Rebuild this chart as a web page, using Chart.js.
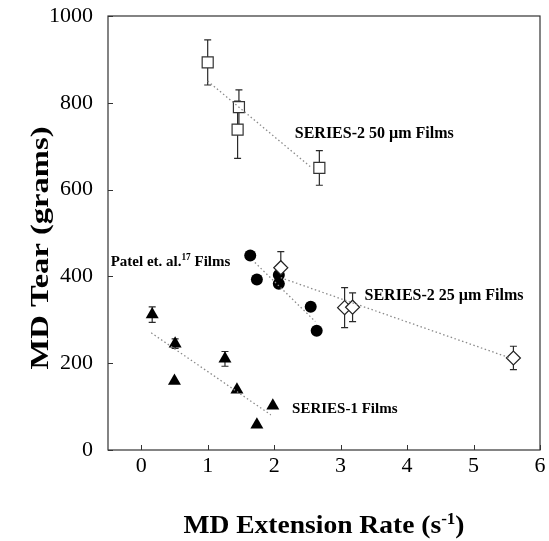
<!DOCTYPE html>
<html>
<head>
<meta charset="utf-8">
<script src="https://cdn.jsdelivr.net/npm/chart.js@4.4.1/dist/chart.umd.min.js"></script>
<style>
  html, body { margin: 0; padding: 0; background: #fff; }
  #wrap { width: 549px; height: 541px; }
</style>
</head>
<body>
<div id="wrap"><canvas id="tearChart" width="549" height="541"></canvas></div>
<script>
// ==== Data ====
const xTicks = [0, 1, 2, 3, 4, 5, 6];
const yTicks = [0, 200, 400, 600, 800, 1000];

// SERIES-2 50 um films (open squares)
const s50X = [1.0, 1.47, 1.45, 2.68];
const s50Y = [893, 790, 738, 650];
const s50Err = [52, 40, 66, 40];

// SERIES-2 25 um films (open diamonds)
const s25X = [2.1, 3.06, 3.18, 5.6];
const s25Y = [420, 328, 329, 212];
const s25Err = [37, 46, 33, 27];

// Patel et al. films (filled circles)
const patelX = [1.64, 1.74, 2.07, 2.07, 2.55, 2.64];
const patelY = [448, 393, 403, 383, 330, 275];

// SERIES-1 films (filled triangles)
const s1X = [0.165, 0.51, 0.5, 1.26, 1.44, 1.98, 1.74];
const s1Y = [312, 245, 159, 210, 139, 102, 58];
const s1Err = [18, 11, 0, 17, 0, 0, 0];

// dotted trend lines
const trend50X = [1.0, 2.55];
const trend50Y = [850, 652];
const trend25X = [2.1, 5.55];
const trend25Y = [397, 212];
const trendPatelX = [1.71, 2.62];
const trendPatelY = [432, 296];
const trendS1X = [0.15, 1.95];
const trendS1Y = [270, 81];

const SERIF = "'Liberation Serif', 'Times New Roman', 'DejaVu Serif', serif";

function pts(xs, ys) {
  return xs.map((x, i) => ({ x: x, y: ys[i] }));
}

function trendSet(xs, ys) {
  return {
    data: pts(xs, ys),
    showLine: true,
    borderColor: "#8a8a8a",
    borderWidth: 1.3,
    borderDash: [1.5, 2.5],
    pointRadius: 0,
    fill: false,
    errs: null
  };
}

// ==== Plugins ====
const frameAndTicks = {
  id: "frameAndTicks",
  afterDraw(chart) {
    const { ctx, chartArea: a, scales } = chart;
    ctx.save();
    ctx.strokeStyle = "#333";
    ctx.lineWidth = 1.2;
    ctx.strokeRect(a.left, a.top, a.right - a.left, a.bottom - a.top);
    ctx.lineWidth = 1;
    xTicks.forEach(v => {
      const px = Math.round(scales.x.getPixelForValue(v)) + 0.5;
      ctx.beginPath();
      ctx.moveTo(px, a.bottom);
      ctx.lineTo(px, a.bottom - 5);
      ctx.stroke();
    });
    yTicks.forEach(v => {
      const py = Math.round(scales.y.getPixelForValue(v)) + 0.5;
      ctx.beginPath();
      ctx.moveTo(a.left, py);
      ctx.lineTo(a.left + 5, py);
      ctx.stroke();
    });
    ctx.restore();
  }
};

const errorBars = {
  id: "errorBars",
  beforeDatasetsDraw(chart) {
    const { ctx, scales } = chart;
    ctx.save();
    ctx.strokeStyle = "#2a2a2a";
    ctx.lineWidth = 1.2;
    chart.data.datasets.forEach(ds => {
      if (!ds.errs) return;
      ds.data.forEach((p, i) => {
        const e = ds.errs[i];
        if (!e) return;
        const px = scales.x.getPixelForValue(p.x);
        const top = scales.y.getPixelForValue(p.y + e);
        const bot = scales.y.getPixelForValue(p.y - e);
        ctx.beginPath();
        ctx.moveTo(px, top);
        ctx.lineTo(px, bot);
        ctx.moveTo(px - 3.5, top);
        ctx.lineTo(px + 3.5, top);
        ctx.moveTo(px - 3.5, bot);
        ctx.lineTo(px + 3.5, bot);
        ctx.stroke();
      });
    });
    ctx.restore();
  }
};

// text pieces: [string, isSuperscript]
function richWidth(ctx, parts, size) {
  let w = 0;
  parts.forEach(([txt, sup]) => {
    ctx.font = "bold " + (sup ? size * 0.62 : size) + "px " + SERIF;
    w += ctx.measureText(txt).width;
  });
  return w;
}

function drawRich(ctx, parts, x, y, size, supRaise) {
  let cx = x;
  parts.forEach(([txt, sup]) => {
    const s = sup ? size * 0.62 : size;
    ctx.font = "bold " + s + "px " + SERIF;
    ctx.fillText(txt, cx, sup ? y - size * (supRaise || 0.42) : y);
    cx += ctx.measureText(txt).width;
  });
}

const labels = {
  id: "labels",
  afterDraw(chart) {
    const { ctx, scales, chartArea: a } = chart;
    const X = v => scales.x.getPixelForValue(v);
    const Y = v => scales.y.getPixelForValue(v);
    ctx.save();
    ctx.fillStyle = "#000";
    ctx.textBaseline = "alphabetic";
    ctx.textAlign = "left";
    drawRich(ctx, [["SERIES-2 50 \u00b5m Films", false]], X(2.31), Y(720), 16);
    drawRich(ctx, [["Patel et. al.", false], ["17", true], [" Films", false]], X(-0.46), Y(424), 15);
    drawRich(ctx, [["SERIES-2 25 \u00b5m Films", false]], X(3.36), Y(345), 16);
    drawRich(ctx, [["SERIES-1 Films", false]], X(2.27), Y(86), 15);

    // x axis title with superscript, slightly widened like the original
    const xt = [["MD Extension Rate (s", false], ["-1", true], [")", false]];
    const xw = richWidth(ctx, xt, 26);
    const sx = 281 / xw;
    ctx.save();
    ctx.translate((a.left + a.right) / 2 - 281 / 2, 533);
    ctx.scale(sx, 1);
    drawRich(ctx, xt, 0, 0, 26, 0.36);
    ctx.restore();

    // y axis title, rotated
    const yt = [["MD Tear (grams)", false]];
    const yw = richWidth(ctx, yt, 25);
    const sy = 243 / yw;
    ctx.save();
    ctx.translate(48, 248);
    ctx.rotate(-Math.PI / 2);
    ctx.scale(sy, 1);
    drawRich(ctx, yt, -yw / 2, 0, 25);
    ctx.restore();
    ctx.restore();
  }
};

// ==== Chart ====
const ctx = document.getElementById("tearChart").getContext("2d");
const chart = new Chart(ctx, {
  type: "scatter",
  data: {
    datasets: [
      trendSet(trend50X, trend50Y),
      trendSet(trend25X, trend25Y),
      trendSet(trendPatelX, trendPatelY),
      trendSet(trendS1X, trendS1Y),
      {
        label: "SERIES-2 50 um",
        data: pts(s50X, s50Y),
        errs: s50Err,
        pointStyle: "rect",
        pointRadius: 7.8,
        backgroundColor: "#fff",
        borderColor: "#333",
        borderWidth: 1.2
      },
      {
        label: "SERIES-2 25 um",
        data: pts(s25X, s25Y),
        errs: s25Err,
        pointStyle: "rectRot",
        pointRadius: 7,
        backgroundColor: "#fff",
        borderColor: "#222",
        borderWidth: 1.2
      },
      {
        label: "Patel",
        data: pts(patelX, patelY),
        pointStyle: "circle",
        pointRadius: 6,
        backgroundColor: "#000",
        borderColor: "#000",
        borderWidth: 0
      },
      {
        label: "SERIES-1",
        data: pts(s1X, s1Y),
        errs: s1Err,
        pointStyle: "triangle",
        pointRadius: 7.5,
        backgroundColor: "#000",
        borderColor: "#000",
        borderWidth: 0
      }
    ]
  },
  options: {
    responsive: false,
    animation: false,
    events: [],
    layout: { padding: { top: 16, right: 1, left: 0, bottom: 0 } },
    plugins: { legend: { display: false }, tooltip: { enabled: false } },
    scales: {
      x: {
        type: "linear",
        min: -0.5,
        max: 6,
        afterBuildTicks: s => { s.ticks = xTicks.map(v => ({ value: v })); },
        afterFit: s => { s.height = 91; s.paddingLeft = 0; s.paddingRight = 0; },
        grid: { display: false, drawTicks: false },
        border: { display: false },
        ticks: {
          color: "#000",
          padding: 3,
          callback: v => String(v),
          font: { family: SERIF, size: 22 }
        }
      },
      y: {
        type: "linear",
        min: 0,
        max: 1000,
        afterBuildTicks: s => { s.ticks = yTicks.map(v => ({ value: v })); },
        afterFit: s => { s.width = 108; s.paddingTop = 0; s.paddingBottom = 0; },
        grid: { display: false, drawTicks: false },
        border: { display: false },
        ticks: {
          color: "#000",
          padding: 15,
          callback: v => String(v),
          font: { family: SERIF, size: 22 }
        }
      }
    }
  },
  plugins: [errorBars, frameAndTicks, labels]
});
</script>
</body>
</html>
